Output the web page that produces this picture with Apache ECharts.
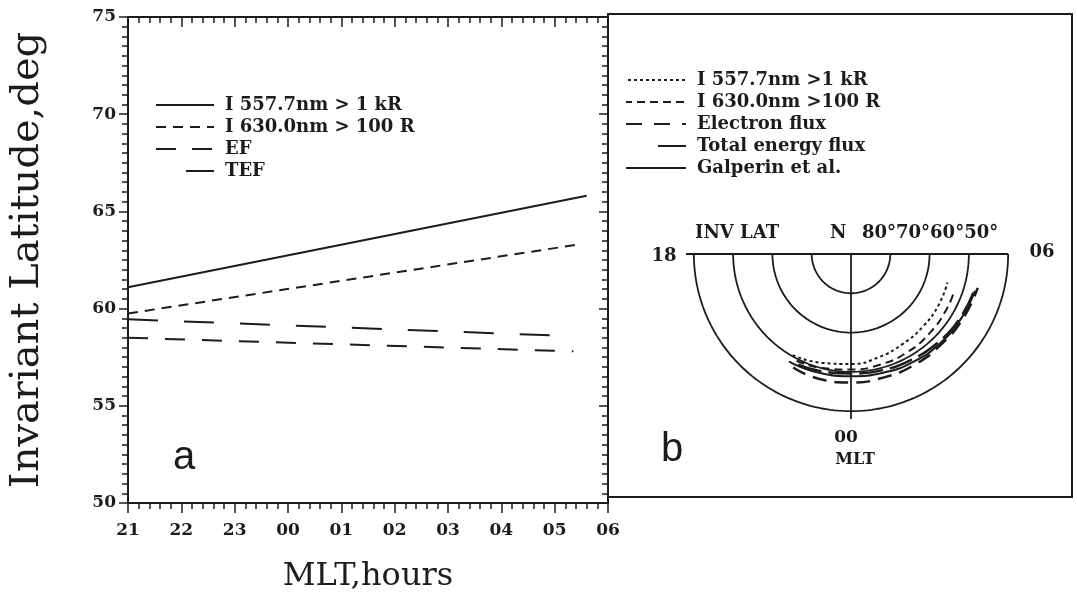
<!DOCTYPE html>
<html>
<head>
<meta charset="utf-8">
<script src="https://cdn.jsdelivr.net/npm/echarts@6/dist/echarts.min.js"></script>
<style>
  html, body { margin: 0; padding: 0; background: #fff; }
  #chart { width: 1077px; height: 597px; }
</style>
</head>
<body>
<div id="chart"></div>
<script>
var ink = '#1c1c1c';
var serif = "'DejaVu Serif', serif";

// panel a: MLT hours (21..30 = 21..06) and invariant latitude
var mltTicks = ['21', '22', '23', '00', '01', '02', '03', '04', '05', '06'];
var hours5577 = [21.0, 29.6];
var lat5577 = [61.1, 65.8];
var hours6300 = [21.0, 29.45];
var lat6300 = [59.75, 63.3];
var hoursEF = [21.0, 29.15];
var latEF = [59.45, 58.6];
var hoursTEF = [21.0, 29.35];
var latTEF = [58.5, 57.8];

// panel b: polar dial, hours past 18 MLT and latitude
var ringLats = [80, 70, 60, 50];
var pHours5577 = [22.0, 23.0, 24.0, 25.0, 26.0, 27.0, 28.0, 28.9];
var pLat5577 = [60.3, 61.3, 62.0, 62.8, 63.6, 64.0, 64.2, 64.4];
var pHours6300 = [22.2, 23.0, 24.0, 25.0, 26.0, 27.0, 28.0, 28.7];
var pLat6300 = [59.5, 60.0, 60.6, 60.9, 61.2, 61.6, 61.9, 62.1];
var pHoursEF = [22.2, 23.0, 24.0, 25.0, 26.0, 27.0, 28.0, 29.0];
var pLatEF = [57.6, 57.2, 57.3, 57.5, 57.5, 57.5, 57.1, 56.6];
var pHoursTEF = [22.3, 23.0, 24.0, 25.0, 26.0, 27.0, 28.0, 28.9];
var pLatTEF = [58.8, 59.2, 59.6, 59.4, 59.0, 58.4, 57.8, 57.3];
var pHoursGal = [22.0, 23.0, 24.0, 25.0, 26.0, 27.0, 28.0, 28.9];
var pLatGal = [58.4, 58.7, 58.9, 58.7, 58.3, 57.9, 57.5, 57.1];

function xy(xs, ys) {
  return xs.map(function (x, i) { return [x, ys[i]]; });
}
function polarPts(hs, lats) {
  return hs.map(function (h, i) { return [lats[i], h]; });
}

var chart = echarts.init(document.getElementById('chart'));

var tickLabel = { color: ink, fontFamily: serif, fontWeight: 'bold', fontSize: 17 };
var axisLine = { lineStyle: { color: ink, width: 2 } };

function lineSeries(name, data, dash, width) {
  return {
    name: name, type: 'line', data: data, symbol: 'none',
    xAxisIndex: 0, yAxisIndex: 0, silent: true,
    itemStyle: { color: ink },
    lineStyle: { color: ink, width: width || 2, type: dash }
  };
}
function polarSeries(name, data, dash, width) {
  return {
    name: name, type: 'line', coordinateSystem: 'polar', polarIndex: 0,
    data: data, symbol: 'none', silent: true, smooth: true,
    itemStyle: { color: ink },
    lineStyle: { color: ink, width: width || 2, type: dash }
  };
}

var series = [
  lineSeries('I 557.7nm > 1 kR', xy(hours5577, lat5577), 'solid'),
  lineSeries('I 630.0nm > 100 R', xy(hours6300, lat6300), [10, 7]),
  lineSeries('EF', xy(hoursEF, latEF), [30, 26]),
  lineSeries('TEF', xy(hoursTEF, latTEF), [20, 17]),
  polarSeries('I 557.7nm >1 kR', polarPts(pHours5577, pLat5577), [3, 3]),
  polarSeries('I 630.0nm >100 R', polarPts(pHours6300, pLat6300), [8, 5]),
  polarSeries('Electron flux', polarPts(pHoursEF, pLatEF), [14, 8], 2.5),
  polarSeries('Total energy flux', polarPts(pHoursTEF, pLatTEF), [24, 7], 2.5),
  polarSeries('Galperin et al.', polarPts(pHoursGal, pLatGal), 'solid')
];

// dial rings (lower half, 18 -> 00 -> 06)
ringLats.forEach(function (lat) {
  var pts = [];
  for (var h = 18; h <= 30.0001; h += 0.1) pts.push([lat, h]);
  series.push({
    type: 'line', coordinateSystem: 'polar', polarIndex: 0, data: pts,
    symbol: 'none', silent: true, lineStyle: { color: ink, width: 1.8 }
  });
});
// 18-06 diameter and 00 meridian
series.push({
  type: 'line', coordinateSystem: 'polar', polarIndex: 0,
  data: [[48, 18], [90, 18], [50, 30]], symbol: 'none', silent: true,
  lineStyle: { color: ink, width: 1.8 }
});
series.push({
  type: 'line', coordinateSystem: 'polar', polarIndex: 0,
  data: [[90, 24], [48, 24]], symbol: 'none', silent: true,
  lineStyle: { color: ink, width: 1.8 }
});

var legendText = { color: ink, fontFamily: serif, fontWeight: 'bold', fontSize: 18, lineHeight: 18, padding: [0, 0, 0, 6] };
var noSymbol = { opacity: 0 };

function smallText(x, y, text, align, size) {
  return {
    type: 'text', x: x, y: y, silent: true,
    style: {
      text: text, fill: ink, font: 'bold ' + (size || 18) + 'px ' + serif,
      align: align || 'center', verticalAlign: 'middle'
    }
  };
}

var option = {
  backgroundColor: '#ffffff',
  animation: false,
  grid: { left: 128, top: 17, right: 469, bottom: 94, outerBoundsMode: 'none', containLabel: false },
  xAxis: [{
    type: 'value', position: 'bottom', min: 21, max: 30, interval: 1,
    axisLine: axisLine,
    axisTick: { inside: false, length: 10, lineStyle: { color: ink, width: 1.5 } },
    minorTick: { show: true, splitNumber: 5, length: 6, lineStyle: { color: ink, width: 1.5 } },
    splitLine: { show: false },
    axisLabel: Object.assign({ margin: 19, formatter: function (v) { return mltTicks[Math.round(v - 21)]; } }, tickLabel),
    name: 'MLT,hours', nameLocation: 'middle', nameGap: 58,
    nameTextStyle: { color: ink, fontFamily: serif, fontSize: 32 }
  }, {
    type: 'value', position: 'top', min: 21, max: 30, interval: 1,
    axisLine: axisLine,
    axisTick: { inside: true, length: 10, lineStyle: { color: ink, width: 1.5 } },
    minorTick: { show: true, splitNumber: 5, length: 6, lineStyle: { color: ink, width: 1.5 } },
    splitLine: { show: false }, axisLabel: { show: false }
  }],
  yAxis: [{
    type: 'value', position: 'left', min: 50, max: 75, interval: 5,
    axisLine: Object.assign({ show: true }, axisLine),
    axisTick: { show: true, inside: false, length: 9, lineStyle: { color: ink, width: 1.5 } },
    minorTick: { show: true, splitNumber: 10, length: 6, lineStyle: { color: ink, width: 1.5 } },
    splitLine: { show: false },
    axisLabel: Object.assign({ margin: 12 }, tickLabel),
    name: 'Invariant Latitude,deg', nameLocation: 'middle', nameGap: 80, nameRotate: 90,
    nameTextStyle: { color: ink, fontFamily: serif, fontSize: 40 }
  }, {
    type: 'value', position: 'right', min: 50, max: 75, interval: 5,
    axisLine: Object.assign({ show: true }, axisLine),
    axisTick: { show: true, inside: true, length: 9, lineStyle: { color: ink, width: 1.5 } },
    minorTick: { show: true, splitNumber: 10, length: 6, lineStyle: { color: ink, width: 1.5 } },
    splitLine: { show: false }, axisLabel: { show: false }
  }],
  polar: { center: [851, 254], radius: 165 },
  angleAxis: { type: 'value', min: 18, max: 42, startAngle: 180, clockwise: false, show: false },
  radiusAxis: { type: 'value', min: 48, max: 90, inverse: true, show: false },
  legend: [{
    data: [
      { name: 'I 557.7nm > 1 kR' },
      { name: 'I 630.0nm > 100 R' },
      { name: 'EF', lineStyle: { type: [20, 16] } },
      { name: 'TEF', lineStyle: { type: [28, 30], dashOffset: 28 } }
    ],
    orient: 'vertical', left: 150, top: 91, itemGap: 4, itemWidth: 58, itemHeight: 14,
    itemStyle: noSymbol, textStyle: legendText, selectedMode: false
  }, {
    data: [
      { name: 'I 557.7nm >1 kR' },
      { name: 'I 630.0nm >100 R' },
      { name: 'Electron flux', lineStyle: { type: [16, 12] } },
      { name: 'Total energy flux', lineStyle: { type: [28, 32], dashOffset: 28 } },
      { name: 'Galperin et al.' }
    ],
    orient: 'vertical', left: 620, top: 66, itemGap: 4, itemWidth: 60, itemHeight: 14,
    itemStyle: noSymbol, textStyle: legendText, selectedMode: false
  }],
  graphic: [
    { type: 'rect', silent: true, shape: { x: 608, y: 14, width: 464, height: 483 },
      style: { fill: null, stroke: ink, lineWidth: 2 } },
    smallText(664, 256, '18'),
    smallText(1042, 252, '06'),
    smallText(846, 438, '00', 'center', 17),
    smallText(855, 460, 'MLT', 'center', 16),
    smallText(695, 233, 'INV LAT', 'left'),
    smallText(830, 233, 'N', 'left'),
    smallText(862, 233, '80°70°60°50°', 'left'),
    { type: 'text', x: 184, y: 458, silent: true,
      style: { text: 'a', fill: ink, font: "40px 'Liberation Sans', sans-serif", align: 'center', verticalAlign: 'middle' } },
    { type: 'text', x: 672, y: 450, silent: true,
      style: { text: 'b', fill: ink, font: "40px 'Liberation Sans', sans-serif", align: 'center', verticalAlign: 'middle' } }
  ],
  series: series
};

chart.setOption(option);
</script>
</body>
</html>
